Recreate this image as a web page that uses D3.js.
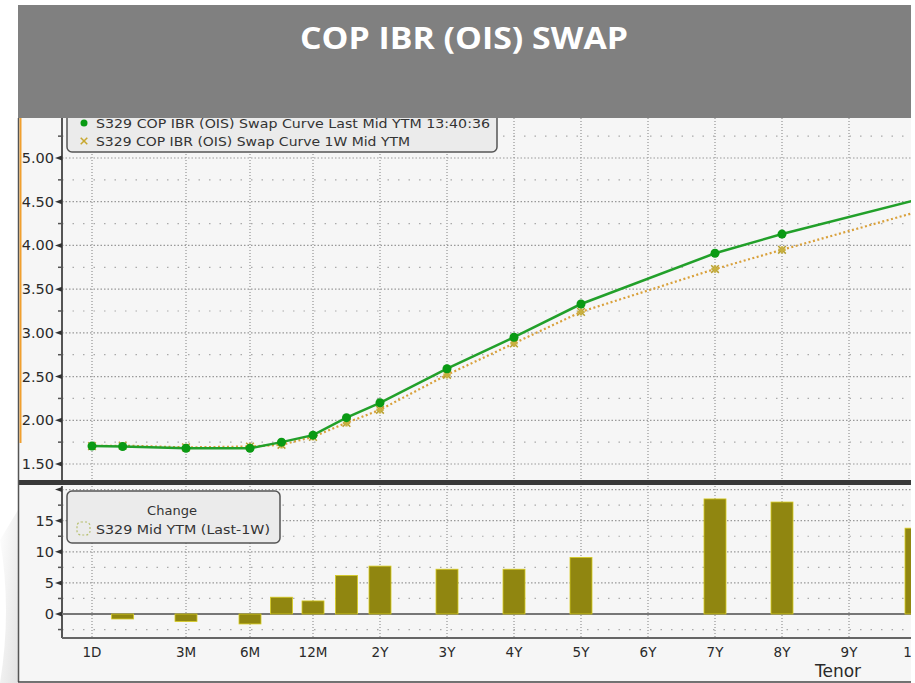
<!DOCTYPE html>
<html>
<head>
<meta charset="utf-8">
<script src="https://cdn.jsdelivr.net/npm/d3@7"></script>
<style>
  body { margin: 0; background: #fff; }
  svg { display: block; }
  text { font-family: "DejaVu Sans", sans-serif; fill: #333; }
</style>
</head>
<body>
<div id="chart"></div>
<script>
// Curve tenors (label + maturity in years)
const tenors = ['1D', '1M', '3M', '6M', '9M', '12M', '18M', '2Y', '3Y', '4Y', '5Y', '7Y', '8Y', '10Y'];
const tenorYears = [1 / 365, 1 / 12, 0.25, 0.5, 0.75, 1, 1.5, 2, 3, 4, 5, 7, 8, 10];

// Swap curve mid YTM (%)
const lastMid = [1.705, 1.70, 1.68, 1.68, 1.75, 1.83, 2.03, 2.20, 2.59, 2.95, 3.33, 3.91, 4.13, 4.52];
const weekMid = [1.705, 1.71, 1.69, 1.70, 1.72, 1.81, 1.97, 2.12, 2.52, 2.88, 3.24, 3.73, 3.95, 4.38];

// Change Last - 1W (bp)
const changeBp = [0, -0.8, -1.2, -1.6, 2.7, 2.1, 6.2, 7.7, 7.2, 7.2, 9.1, 18.5, 18.0, 13.8];

// Axis ticks
const xTickLabels = ['1D', '3M', '6M', '12M', '2Y', '3Y', '4Y', '5Y', '6Y', '7Y', '8Y', '9Y', '10Y'];
const xTickYears = [1 / 365, 0.25, 0.5, 1, 2, 3, 4, 5, 6, 7, 8, 9, 10];
const topTicks = [1.5, 2.0, 2.5, 3.0, 3.5, 4.0, 4.5, 5.0, 5.5];
const topMinor = [1.75, 2.25, 2.75, 3.25, 3.75, 4.25, 4.75, 5.25];
const botTicks = [0, 5, 10, 15, 20];
const botMinor = [-2.5, 2.5, 7.5, 12.5, 17.5];

const W = 915, H = 683;
const panel = { left: 18, right: 911, top: 118, bottom: 682 };
const axisX = 62;

const svg = d3.select('#chart').append('svg')
    .attr('width', W)
    .attr('height', H);

const defs = svg.append('defs');
defs.append('clipPath').attr('id', 'clip')
    .append('rect').attr('x', 0).attr('y', panel.top).attr('width', panel.right).attr('height', H);
const grad = defs.append('linearGradient').attr('id', 'bggrad')
    .attr('x1', 0).attr('y1', 0).attr('x2', 1).attr('y2', 1);
grad.append('stop').attr('offset', '0%').attr('stop-color', '#ffffff');
grad.append('stop').attr('offset', '100%').attr('stop-color', '#e2e2e2');

// slide decoration bottom-left
svg.append('path')
    .attr('d', `M0,540 Q12,610 0,683 L18,683 L18,510 Z`)
    .attr('fill', 'url(#bggrad)');

// panel background
svg.append('rect')
    .attr('x', panel.left).attr('y', panel.top)
    .attr('width', panel.right - panel.left).attr('height', panel.bottom - panel.top)
    .attr('fill', '#f6f6f6');

const g = svg.append('g').attr('clip-path', 'url(#clip)');

// Scales (Bloomberg style tenor axis: stretched short end)
const x = d3.scaleLinear()
    .domain([1 / 365, 0.25, 0.5, 1, 10])
    .range([92, 186, 250, 313, 916]);

const yTop = d3.scaleLinear().domain([1.5, 5.0]).range([464, 158]);
const yBot = d3.scaleLinear().domain([0, 15]).range([614, 520.7]);

const topArea = { y0: panel.top, y1: 480 };
const botArea = { y0: 486, y1: 638 };

// Vertical grid lines
[topArea, botArea].forEach(a => {
    g.selectAll(null)
        .data(xTickYears)
        .enter()
        .append('line')
        .attr('x1', d => x(d)).attr('x2', d => x(d))
        .attr('y1', a.y0).attr('y2', a.y1)
        .attr('stroke', '#808080')
        .attr('stroke-width', 1)
        .attr('stroke-dasharray', '1,2');
});

// Horizontal grid: major dense dots, minor sparse dots
function hGrid(vals, scale, dash, color) {
    g.selectAll(null)
        .data(vals)
        .enter()
        .append('line')
        .attr('x1', axisX).attr('x2', panel.right)
        .attr('y1', d => scale(d)).attr('y2', d => scale(d))
        .attr('stroke', color)
        .attr('stroke-width', 1.2)
        .attr('stroke-dasharray', dash);
}
hGrid(topTicks, yTop, '1.5,2', '#999');
hGrid(topMinor, yTop, '1.5,9', '#aaa');
hGrid(botTicks.filter(d => d !== 0), yBot, '1.5,2', '#999');
hGrid(botMinor, yBot, '1.5,9', '#aaa');

// Y axes (left): line, triangle major ticks, short minor ticks, labels
function yAxis(ticks, minor, scale, y0, y1, fmt, labelFilter) {
    g.append('line')
        .attr('x1', axisX).attr('x2', axisX)
        .attr('y1', y0).attr('y2', y1)
        .attr('stroke', '#555').attr('stroke-width', 2);
    g.selectAll(null)
        .data(ticks)
        .enter()
        .append('path')
        .attr('d', d => `M${axisX},${scale(d) - 2.5} L${axisX - 7},${scale(d)} L${axisX},${scale(d) + 2.5} Z`)
        .attr('fill', '#333');
    g.selectAll(null)
        .data(minor)
        .enter()
        .append('line')
        .attr('x1', axisX - 4).attr('x2', axisX)
        .attr('y1', d => scale(d)).attr('y2', d => scale(d))
        .attr('stroke', '#555').attr('stroke-width', 1.5);
    g.selectAll(null)
        .data(ticks.filter(labelFilter))
        .enter()
        .append('text')
        .attr('x', axisX - 8)
        .attr('y', d => scale(d) + 5)
        .attr('text-anchor', 'end')
        .style('font-size', '14.5px')
        .style('fill', '#2a2a2a')
        .text(fmt);
}
yAxis(topTicks, topMinor, yTop, topArea.y0, topArea.y1, d => d3.format('.2f')(d), d => d <= 5);
yAxis(botTicks, botMinor, yBot, botArea.y0, botArea.y1, d => d, d => d <= 15);

// Zero line of the change panel
g.append('line')
    .attr('x1', axisX).attr('x2', panel.right)
    .attr('y1', yBot(0)).attr('y2', yBot(0))
    .attr('stroke', '#777').attr('stroke-width', 2);

// X axis line and labels
g.append('line')
    .attr('x1', axisX).attr('x2', panel.right)
    .attr('y1', botArea.y1).attr('y2', botArea.y1)
    .attr('stroke', '#666').attr('stroke-width', 2);

g.selectAll(null)
    .data(xTickYears)
    .enter()
    .append('text')
    .attr('x', d => x(d))
    .attr('y', 657)
    .attr('text-anchor', 'middle')
    .style('font-size', '13.5px')
    .style('fill', '#2a2a2a')
    .text((d, i) => xTickLabels[i]);

g.append('text')
    .attr('x', 838).attr('y', 677)
    .attr('text-anchor', 'middle')
    .style('font-size', '17px')
    .style('fill', '#2a2a2a')
    .text('Tenor');

// Change bars
const barW = 22;
const bars = tenors.map((t, i) => ({ t, yr: tenorYears[i], v: changeBp[i] })).filter(d => d.v !== 0);
g.selectAll('.bar')
    .data(bars)
    .enter()
    .append('rect')
    .attr('class', 'bar')
    .attr('x', d => x(d.yr) - barW / 2)
    .attr('y', d => yBot(Math.max(0, d.v)))
    .attr('width', barW)
    .attr('height', d => Math.abs(yBot(d.v) - yBot(0)))
    .attr('fill', '#908610')
    .attr('stroke', '#d8cc20')
    .attr('stroke-width', 0.8);

// Curves
const curveLast = tenors.map((t, i) => ({ yr: tenorYears[i], v: lastMid[i] }));
const curveWeek = tenors.map((t, i) => ({ yr: tenorYears[i], v: weekMid[i] }));
const line = d3.line().x(d => x(d.yr)).y(d => yTop(d.v));

g.append('path')
    .datum(curveWeek)
    .attr('d', line)
    .attr('fill', 'none')
    .attr('stroke', '#d9a03a')
    .attr('stroke-width', 2.2)
    .attr('stroke-dasharray', '2,2.5');

// asterisk markers for the 1W curve
g.selectAll('.star')
    .data(curveWeek)
    .enter()
    .append('path')
    .attr('class', 'star')
    .attr('transform', d => `translate(${x(d.yr)},${yTop(d.v)})`)
    .attr('d', d3.symbol().type(d3.symbolTimes).size(40))
    .attr('fill', 'none')
    .attr('stroke', '#b8a032')
    .attr('stroke-width', 1.5);
g.selectAll('.star2')
    .data(curveWeek)
    .enter()
    .append('path')
    .attr('transform', d => `translate(${x(d.yr)},${yTop(d.v)})`)
    .attr('d', d3.symbol().type(d3.symbolCross).size(30))
    .attr('fill', '#c8b040');

g.append('path')
    .datum(curveLast)
    .attr('d', line)
    .attr('fill', 'none')
    .attr('stroke', '#22a02a')
    .attr('stroke-width', 2.5);

g.selectAll('.dot')
    .data(curveLast)
    .enter()
    .append('circle')
    .attr('class', 'dot')
    .attr('cx', d => x(d.yr))
    .attr('cy', d => yTop(d.v))
    .attr('r', 4.5)
    .attr('fill', '#0a9a14');

// Panel separator and borders
svg.append('line')
    .attr('x1', panel.left).attr('x2', panel.right)
    .attr('y1', 482.5).attr('y2', 482.5)
    .attr('stroke', '#383838').attr('stroke-width', 5);
svg.append('line')
    .attr('x1', panel.left + 0.5).attr('x2', panel.left + 0.5)
    .attr('y1', panel.top).attr('y2', panel.bottom)
    .attr('stroke', '#555').attr('stroke-width', 1.5);
svg.append('line')
    .attr('x1', panel.left + 2.5).attr('x2', panel.left + 2.5)
    .attr('y1', panel.top).attr('y2', 443)
    .attr('stroke', '#f0a030').attr('stroke-width', 2);
svg.append('line')
    .attr('x1', panel.left).attr('x2', panel.right)
    .attr('y1', panel.bottom).attr('y2', panel.bottom)
    .attr('stroke', '#444').attr('stroke-width', 1.5);

// Legend (curves)
const leg1 = svg.append('g');
leg1.append('rect')
    .attr('x', 67).attr('y', 100).attr('width', 430).attr('height', 52).attr('rx', 5)
    .attr('fill', '#ebebeb').attr('stroke', '#555').attr('stroke-width', 1.5);
leg1.append('circle').attr('cx', 84).attr('cy', 123).attr('r', 3.5).attr('fill', '#0a9a14');
leg1.append('path')
    .attr('transform', 'translate(84,141)')
    .attr('d', d3.symbol().type(d3.symbolTimes).size(30))
    .attr('stroke', '#c8a830').attr('stroke-width', 1.5).attr('fill', 'none');
leg1.append('text').attr('x', 96).attr('y', 127.5)
    .attr('textLength', 394).attr('lengthAdjust', 'spacingAndGlyphs')
    .style('font-size', '13px')
    .text('S329 COP IBR (OIS) Swap Curve Last Mid YTM 13:40:36');
leg1.append('text').attr('x', 96).attr('y', 145.5)
    .attr('textLength', 314).attr('lengthAdjust', 'spacingAndGlyphs')
    .style('font-size', '13px')
    .text('S329 COP IBR (OIS) Swap Curve 1W Mid YTM');

// Legend (change)
const leg2 = svg.append('g');
leg2.append('rect')
    .attr('x', 67).attr('y', 491).attr('width', 213).attr('height', 52).attr('rx', 5)
    .attr('fill', '#ebebeb').attr('stroke', '#555').attr('stroke-width', 1.5);
leg2.append('rect')
    .attr('x', 77).attr('y', 522).attr('width', 13).attr('height', 13).attr('rx', 4)
    .attr('fill', 'none').attr('stroke', '#b8c070').attr('stroke-width', 1.2)
    .attr('stroke-dasharray', '2,2');
leg2.append('text').attr('x', 172).attr('y', 514.5)
    .attr('text-anchor', 'middle')
    .style('font-size', '13px')
    .text('Change');
leg2.append('text').attr('x', 96).attr('y', 533.5)
    .attr('textLength', 174).attr('lengthAdjust', 'spacingAndGlyphs')
    .style('font-size', '13px')
    .text('S329 Mid YTM (Last-1W)');

// Title band
svg.append('rect')
    .attr('x', panel.left).attr('y', 5)
    .attr('width', panel.right - panel.left).attr('height', panel.top - 5)
    .attr('fill', '#808080');
svg.append('text')
    .attr('x', 464).attr('y', 49)
    .attr('text-anchor', 'middle')
    .attr('textLength', 328).attr('lengthAdjust', 'spacingAndGlyphs')
    .style('font-family', '"Open Sans", sans-serif')
    .style('font-weight', 'bold')
    .style('font-size', '30px')
    .style('fill', '#ffffff')
    .text('COP IBR (OIS) SWAP');
</script>
</body>
</html>
